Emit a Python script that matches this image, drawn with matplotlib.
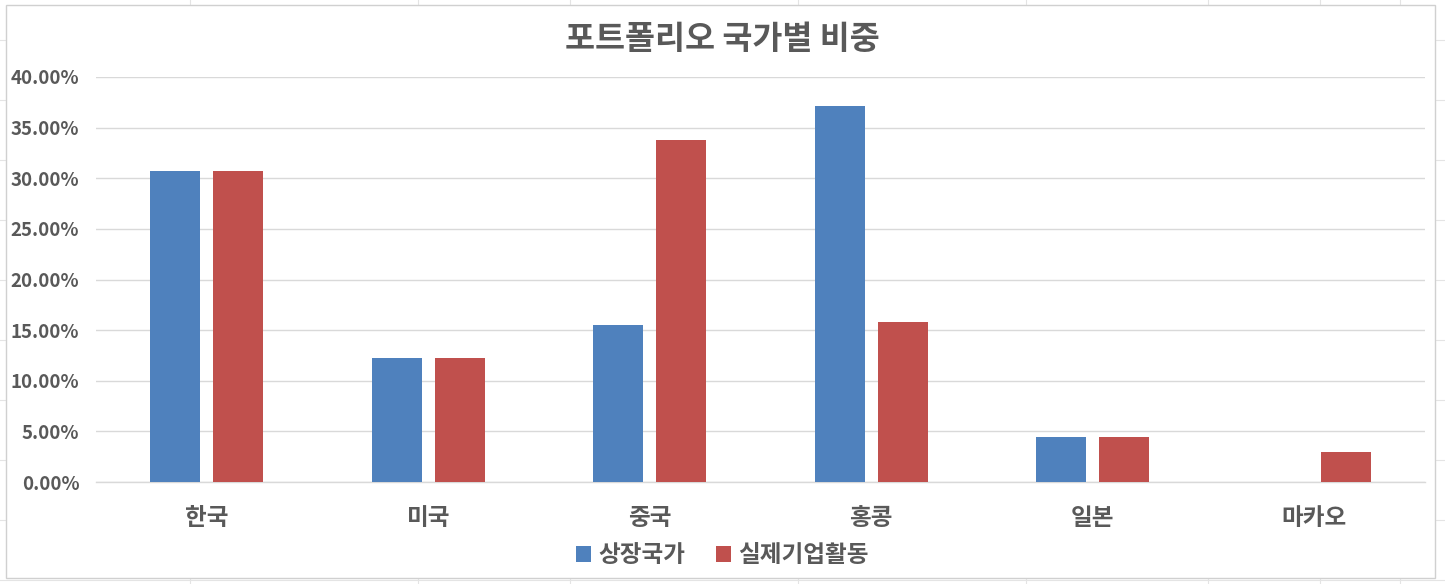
import matplotlib.pyplot as plt
from matplotlib.patches import Rectangle
from matplotlib.lines import Line2D
import numpy as np

plt.rcParams['font.family'] = ['Noto Sans CJK KR', 'DejaVu Sans']

countries = ['한국', '미국', '중국', '홍콩', '일본', '마카오']
listed = [30.7, 12.2, 15.5, 37.1, 4.4, 0.0]
actual = [30.7, 12.2, 33.8, 15.8, 4.4, 3.0]
series_names = ['상장국가', '실제기업활동']
title = '포트폴리오 국가별 비중'

blue = '#4F81BD'
red = '#C0504D'
text_col = '#595959'
grid_col = '#D9D9D9'

fig = plt.figure(figsize=(14.45, 5.84), dpi=100)
fig.patch.set_facecolor('white')

# faint spreadsheet cells behind the chart
for xc in [190, 418, 570, 798, 1026, 1208, 1320, 1400]:
    fig.add_artist(Line2D([xc / 1445, xc / 1445], [0, 1], color='#E4E4E4', lw=0.8, zorder=0))
for yc in [40, 100, 160, 220, 280, 340, 400, 460, 520, 580]:
    fig.add_artist(Line2D([0, 1], [1 - yc / 584, 1 - yc / 584], color='#E4E4E4', lw=0.8, zorder=0))
fig.add_artist(Rectangle((6 / 1445, 1 - 578 / 584), 1429 / 1445, 573 / 584,
                         facecolor='white', edgecolor='#D0D0D0', lw=1.0, zorder=1))

ax = fig.add_axes([96 / 1445, 1 - 482 / 584, 1329 / 1445, 405 / 584])
ax.set_zorder(2)
ax.patch.set_alpha(0)

x = np.arange(len(countries))
width = 0.226
gap = 0.059
ax.bar(x - (width + gap) / 2, listed, width, color=blue, label=series_names[0], zorder=3)
ax.bar(x + (width + gap) / 2, actual, width, color=red, label=series_names[1], zorder=3)

ax.set_xlim(-0.5, len(countries) - 0.5)
ax.set_ylim(0, 40)
ticks = np.arange(0, 41, 5)
ax.set_yticks(ticks)
ax.set_yticklabels([f'{t:.2f}%' for t in ticks], fontsize=13.5, fontweight='bold', color=text_col)
ax.set_xticks(x)
ax.set_xticklabels(countries, fontsize=17, fontweight='bold', color=text_col)
ax.tick_params(length=0)
ax.tick_params(axis='x', pad=17)
ax.tick_params(axis='y', pad=12)
ax.grid(axis='y', color=grid_col, lw=1.0, zorder=0)
for s in ['top', 'right', 'left']:
    ax.spines[s].set_visible(False)
ax.spines['bottom'].set_color(grid_col)
ax.spines['bottom'].set_linewidth(1.0)

fig.text(0.5, 1 - 40 / 584, title, ha='center', va='center', fontsize=23.5,
         fontweight='bold', color=text_col, zorder=5)

handles, labels = ax.get_legend_handles_labels()
leg = fig.legend(handles, labels, loc='center', bbox_to_anchor=(0.5, 1 - 555 / 584),
                 ncol=2, frameon=False, handlelength=0.65, handleheight=0.65,
                 handletextpad=0.3, columnspacing=1.3,
                 prop={'size': 17, 'weight': 'bold'})
for t in leg.get_texts():
    t.set_color(text_col)
leg.set_zorder(5)

fig.savefig('out.png', dpi=100)
